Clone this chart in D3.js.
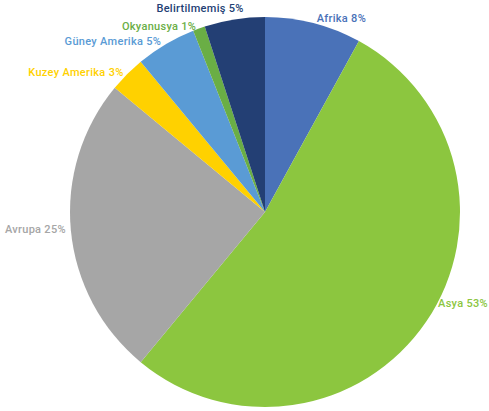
<!DOCTYPE html>
<html>
<head>
<meta charset="utf-8">
<script src="https://cdn.jsdelivr.net/npm/d3@7"></script>
<style>
  body { margin: 0; background: #ffffff; }
  .label { font-family: "Roboto", sans-serif; font-size: 11px; font-weight: 500; letter-spacing: 0.3px; }
</style>
</head>
<body>
<div id="chart"></div>
<script>
// veriler - saat 12'den saat yönünde
var regions = ["Afrika", "Asya", "Avrupa", "Kuzey Amerika", "Güney Amerika", "Okyanusya", "Belirtilmemiş"];
var shares = [8, 53, 25, 3, 5, 1, 5];
var colors = ["#4a72b8", "#8cc63f", "#a6a6a6", "#ffd100", "#5a9bd5", "#6aae45", "#233f74"];
// etiket ince ayarı (px)
var labelNudge = [[2, 0], [13, -21], [0, -2], [0, 2], [-2, 1], [-1, 2], [10, -6]];

var width = 489, height = 411;
var cx = 265, cy = 212, radius = 195, labelRadius = 200;

var svg = d3.select("#chart").append("svg")
    .attr("width", width)
    .attr("height", height);

var g = svg.append("g")
    .attr("transform", "translate(" + cx + "," + cy + ")");

var data = regions.map(function(r, i) { return {name: r, value: shares[i], i: i}; });

var pie = d3.pie()
    .sort(null)
    .value(function(d) { return d.value; });

var arc = d3.arc().innerRadius(0).outerRadius(radius);

var arcs = pie(data);

g.selectAll("path.slice")
    .data(arcs)
    .enter().append("path")
    .attr("class", "slice")
    .attr("fill", function(d) { return colors[d.data.i]; })
    .attr("d", arc);

var labels = g.selectAll("text.label")
    .data(arcs)
    .enter().append("text")
    .attr("class", "label")
    .attr("fill", function(d) { return colors[d.data.i]; })
    .attr("x", function(d) {
        var a = (d.startAngle + d.endAngle) / 2;
        return labelRadius * Math.sin(a) + labelNudge[d.data.i][0];
    })
    .attr("y", function(d) {
        var a = (d.startAngle + d.endAngle) / 2;
        return -labelRadius * Math.cos(a) + labelNudge[d.data.i][1];
    })
    .attr("dy", "0.35em")
    .attr("text-anchor", function(d) {
        var a = (d.startAngle + d.endAngle) / 2;
        return a < Math.PI ? "start" : "end";
    })
    .text(function(d) { return d.data.name + " " + d.data.value + "%"; });

// sağ kenara sığmayan etiketi içeri çek
labels.each(function() {
    var box = this.getBBox();
    var right = cx + box.x + box.width;
    if (right > width - 1) {
        d3.select(this).attr("x", +d3.select(this).attr("x") - (right - width + 1));
    }
});
</script>
</body>
</html>
